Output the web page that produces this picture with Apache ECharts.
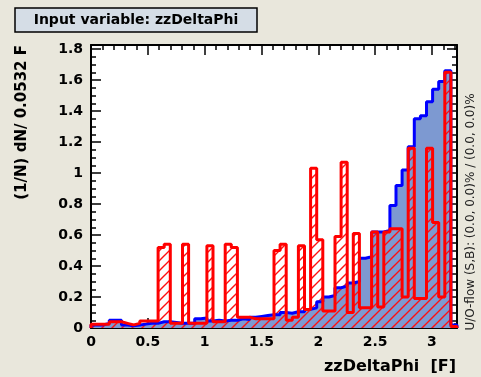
<!DOCTYPE html>
<html>
<head>
<meta charset="utf-8">
<script src="https://cdn.jsdelivr.net/npm/echarts@6/dist/echarts.min.js"></script>
<style>
html,body{margin:0;padding:0;background:#e9e7dc;}
#mybox{width:481px;height:377px;}
</style>
</head>
<body>
<div id="mybox"></div>
<script>
// histogram range, 60 bins
var xMin = 0, xMax = 3.22;
var yMax = 1.826;
// signal (blue filled)
var sigVals = [0.02,0.02,0.03,0.05,0.05,0.02,0.015,0.02,0.025,0.03,
               0.03,0.04,0.04,0.035,0.03,0.03,0.03,0.06,0.065,0.045,
               0.05,0.045,0.05,0.05,0.06,0.055,0.07,0.075,0.08,0.085,
               0.085,0.1,0.095,0.105,0.105,0.12,0.13,0.17,0.2,0.21,
               0.26,0.27,0.29,0.3,0.45,0.46,0.62,0.62,0.63,0.79,
               0.92,1.02,1.17,1.35,1.37,1.46,1.54,1.59,1.66,0.02];
// background (red hatched)
var bkgVals = [0.025,0.025,0.025,0.04,0.04,0.03,0.02,0.03,0.045,0.045,
               0.045,0.52,0.54,0.03,0.03,0.54,0.03,0.03,0.03,0.53,
               0.04,0.04,0.54,0.52,0.07,0.07,0.06,0.06,0.06,0.06,
               0.50,0.54,0.05,0.07,0.53,0.12,1.03,0.57,0.11,0.11,
               0.59,1.07,0.10,0.61,0.13,0.13,0.62,0.135,0.62,0.64,
               0.64,0.20,1.16,0.19,0.19,1.16,0.68,0.20,1.65,0.01];

var titleText = 'Input variable: zzDeltaPhi';
var xTitle = 'zzDeltaPhi  [F]';
var yTitle = '(1/N) dN/ 0.0532 F';
var flowText = 'U/O-flow (S,B): (0.0, 0.0)% / (0.0, 0.0)%';

// step outline points from bin values
function histPoints(vals){
    var w = (xMax - xMin) / vals.length;
    var pts = [[xMin, 0]];
    for (var i = 0; i < vals.length; i++) pts.push([xMin + i * w, vals[i]]);
    pts.push([xMax, vals[vals.length - 1]]);
    pts.push([xMax, 0]);
    return pts;
}

// red hatch pattern
var hs = 10;
var hatch = document.createElement('canvas');
hatch.width = hs; hatch.height = hs;
var hctx = hatch.getContext('2d');
hctx.strokeStyle = '#ff1010';
hctx.lineWidth = 1.4;
hctx.beginPath();
hctx.moveTo(0, hs); hctx.lineTo(hs, 0);
hctx.moveTo(-1, 1); hctx.lineTo(1, -1);
hctx.moveTo(hs - 1, hs + 1); hctx.lineTo(hs + 1, hs - 1);
hctx.stroke();

var tickFont = {color:'#000', fontFamily:'DejaVu Sans', fontWeight:'bold', fontSize:14};

function xAx(pos, interval, len, labels){
    return {
        type:'value', min:xMin, max:xMax, interval:interval, position:pos,
        axisLine:{show:labels, onZero:false, lineStyle:{color:'#000', width:2}},
        axisTick:{show:true, inside:true, length:len, lineStyle:{color:'#000', width:1.5}},
        axisLabel:Object.assign({show:labels && pos === 'bottom', margin:7, showMaxLabel:false}, tickFont),
        splitLine:{show:false}
    };
}
function yAx(pos, interval, len, labels){
    return {
        type:'value', min:0, max:yMax, interval:interval, position:pos,
        axisLine:{show:labels, onZero:false, lineStyle:{color:'#000', width:2}},
        axisTick:{show:true, inside:true, length:len, lineStyle:{color:'#000', width:1.5}},
        axisLabel:Object.assign({show:labels && pos === 'left', margin:8, showMaxLabel:false}, tickFont),
        splitLine:{show:false}
    };
}

var mycharts = echarts.init(document.getElementById('mybox'));
var option = {
    backgroundColor:'#e9e7dc',
    animation:false,
    grid:{left:91, right:24, top:45, bottom:49, show:true, backgroundColor:'#fff', borderWidth:0},
    xAxis:[xAx('bottom',0.5,10,true), xAx('bottom',0.1,5,false), xAx('top',0.5,10,true), xAx('top',0.1,5,false)],
    yAxis:[yAx('left',0.2,10,true), yAx('left',0.05,5,false), yAx('right',0.2,10,true), yAx('right',0.05,5,false)],
    graphic:[
        {type:'rect', shape:{x:15, y:8, width:242, height:24},
         style:{fill:'#d5dde6', stroke:'#000', lineWidth:1.5}},
        {type:'text', x:136, y:20,
         style:{text:titleText, fill:'#000', font:'bold 14px "DejaVu Sans"', align:'center', verticalAlign:'middle'}},
        {type:'text', x:22, y:45, rotation:Math.PI/2,
         style:{text:yTitle, fill:'#000', font:'bold 15px "DejaVu Sans"', align:'right', verticalAlign:'middle'}},
        {type:'text', x:456, y:367,
         style:{text:xTitle, fill:'#000', font:'bold 16px "DejaVu Sans"', align:'right', verticalAlign:'middle'}},
        {type:'text', x:471, y:212, rotation:Math.PI/2,
         style:{text:flowText, fill:'#222', font:'12px "DejaVu Sans"', align:'center', verticalAlign:'middle'}}
    ],
    series:[
        {
            name:'Signal', type:'line', step:'end', symbol:'none',
            xAxisIndex:0, yAxisIndex:0,
            data:histPoints(sigVals),
            lineStyle:{color:'#0000ff', width:3},
            areaStyle:{color:'#7d99d1', opacity:1}
        },
        {
            name:'Background', type:'line', step:'end', symbol:'none',
            xAxisIndex:0, yAxisIndex:0,
            data:histPoints(bkgVals),
            lineStyle:{color:'#ff0000', width:3},
            areaStyle:{color:{image:hatch, repeat:'repeat'}, opacity:1}
        }
    ]
};
mycharts.setOption(option);
</script>
</body>
</html>
